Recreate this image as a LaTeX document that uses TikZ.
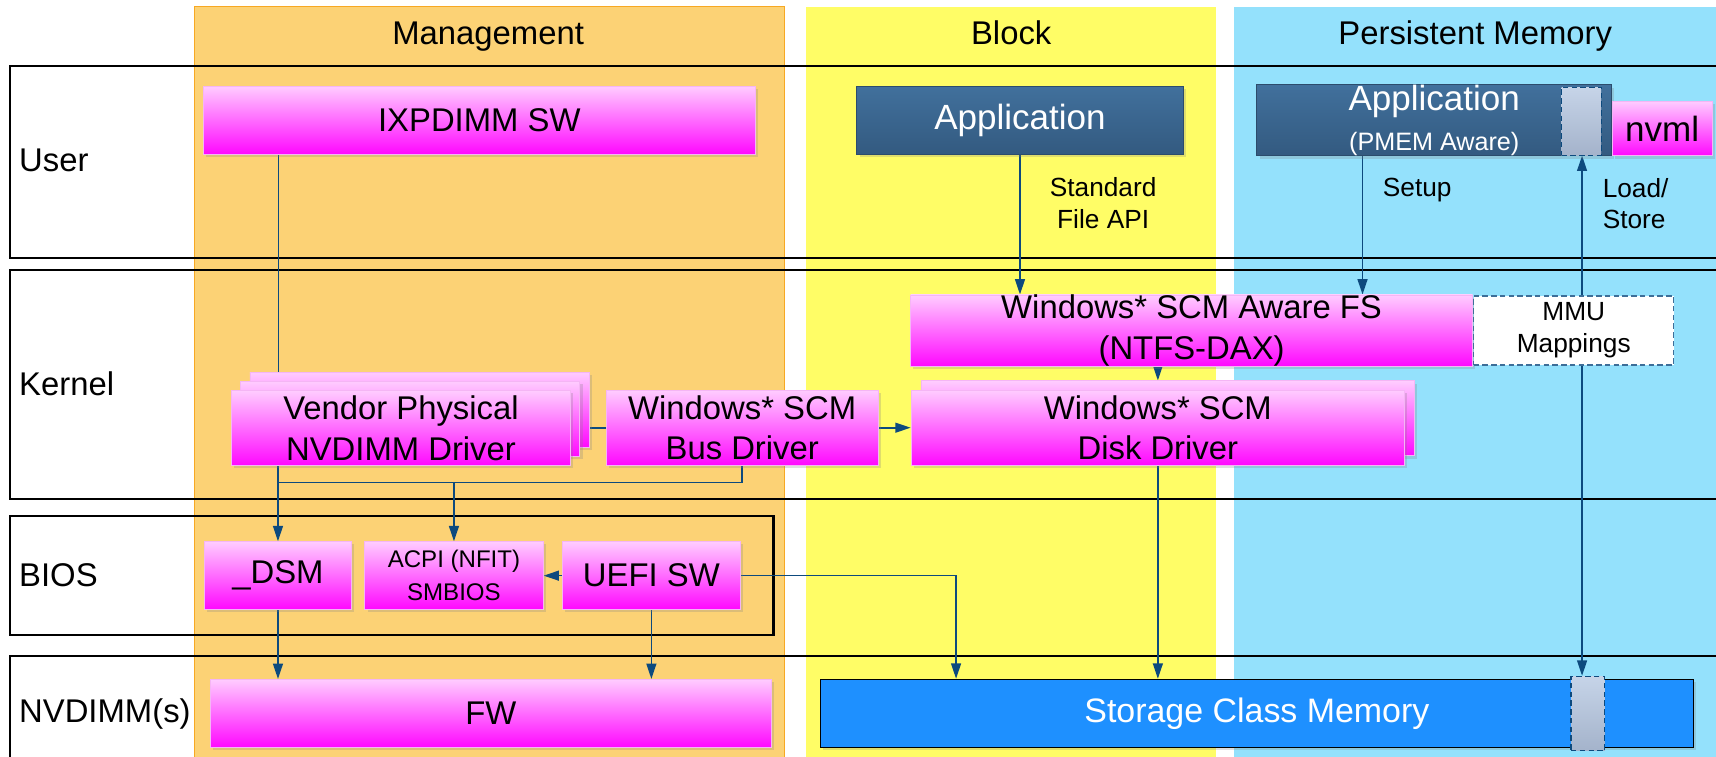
\documentclass[tikz,border=0pt]{standalone}
\usepackage{fontspec}
\setmainfont{Liberation Sans}
\usetikzlibrary{positioning,arrows.meta,shadows}

\definecolor{mgmtfill}{HTML}{FCD275}
\definecolor{mgmtedge}{HTML}{F7A823}
\definecolor{blockfill}{HTML}{FFFD66}
\definecolor{pmfill}{HTML}{94E1FC}
\definecolor{pinktop}{HTML}{FFCCFF}
\definecolor{pinkbot}{HTML}{FF08FF}
\definecolor{pinkedge}{HTML}{F5B5F5}
\definecolor{apptop}{HTML}{41709C}
\definecolor{appbot}{HTML}{335A80}
\definecolor{appedge}{HTML}{2C4C6C}
\definecolor{wire}{HTML}{0D4A7E}
\definecolor{scmblue}{HTML}{1E90FF}
\definecolor{slottop}{HTML}{C6D4E8}
\definecolor{slotbot}{HTML}{A4B3CB}

\pgfdeclarelayer{background}
\pgfdeclarelayer{wires}
\pgfsetlayers{background,wires,main}

\tikzset{
  dims/.style 2 args={minimum width=#1pt, minimum height=#2pt},
  softshadow/.style={drop shadow={opacity=0.25, shadow xshift=2.5pt, shadow yshift=-2.5pt}},
  swbox/.style={draw=pinkedge, line width=0.8pt, top color=pinktop, bottom color=pinkbot,
    inner sep=0pt, align=center, font=\fontsize{30}{37}\selectfont, softshadow},
  appbox/.style={draw=appedge, line width=0.8pt, top color=apptop, bottom color=appbot,
    text=white, inner sep=0pt, align=center, font=\fontsize{32}{37}\selectfont, softshadow},
  slot/.style={draw=wire, dash pattern=on 5pt off 3pt, line width=1pt,
    top color=slottop, bottom color=slotbot, inner sep=0pt},
  rowlabel/.style={anchor=base west, font=\fontsize{30}{36}\selectfont},
  lanehead/.style={anchor=base, font=\fontsize{30}{36}\selectfont},
  note/.style={align=center, font=\fontsize{24}{29}\selectfont},
  layerbox/.style={draw=black, line width=2pt},
  link/.style={draw=wire, line width=1.5pt},
  arr/.style={link, -{Triangle[length=14pt,width=9pt]}},
}

\begin{document}
\begin{tikzpicture}[x=1pt, y=-1pt]
  \useasboundingbox (0,0) rectangle (1568,691);

  % columns and layers
  \begin{pgfonlayer}{background}
    \fill[mgmtfill] (178,6) rectangle (716.8,700);
    \draw[mgmtedge, line width=1pt] (178,700) -- (178,6) -- (716.8,6) -- (716.8,700);
    \fill[blockfill] (736.8,6) rectangle (1111.4,700);
    \fill[pmfill] (1127.6,6) rectangle (1580,700);

    \draw[layerbox] (9.5,60.3) rectangle (1580,236);
    \draw[layerbox] (9.5,246.7) rectangle (1580,456.3);
    \draw[layerbox] (9.5,471.2) rectangle (706.8,580.2);
    \draw[layerbox] (9.5,599.4) rectangle (1580,700);
  \end{pgfonlayer}

  \node[lanehead] (mgmthead) at (446,41) {Management};
  \node[lanehead] (blockhead) at (924,41) {Block};
  \node[lanehead] (pmhead) at (1348,41) {Persistent Memory};

  \node[rowlabel] (userlbl) at (14,157) {User};
  \node[rowlabel] (kernellbl) at (14,361) {Kernel};
  \node[rowlabel] (bioslbl) at (14,535.5) {BIOS};
  \node[rowlabel] (nvdimmlbl) at (14,660) {NVDIMM(s)};

  % user
  \node[swbox, dims={504}{62}] (ixp) at (438,109.7) {IXPDIMM SW};
  \node[appbox, dims={298}{62}] (appblk) at (932,110) {Application};
  \node[appbox, dims={324}{62}] (apppm) at (1310.5,110)
    {Application\\{\fontsize{23}{28}\selectfont (PMEM Aware)}};
  \node[slot, dims={36}{62}] (pmdash) at (1445,110.7) {};
  \node[swbox, dims={91}{50}, anchor=south west,
    font=\fontsize{32}{37}\selectfont] (nvml) at (apppm.south east) {nvml};

  \node[note] (fileapi) at (1008,185.5) {Standard\\File API};
  \node[note, anchor=base] (setuplbl) at (1295,180) {Setup};
  \node[note, align=left, anchor=west] (loadlbl) at (1461,186) {Load/\\Store};

  % kernel
  \node[swbox, dims={513.6}{64}] (fs) at (1088.8,302) {Windows* SCM Aware FS\\(NTFS-DAX)};
  \node[dims={183}{63}, right=0pt of fs, draw=wire!80, dash pattern=on 5pt off 3pt,
    line width=1pt, fill=white, inner sep=0pt, note] (mmu) {MMU\\Mappings};

  \node[swbox, dims={310}{68.5}] (vend3) at (383.4,374.2) {};
  \node[swbox, dims={310}{68.5}] (vend2) at ([shift={(-8.5,8.5)}]vend3.center) {};
  \node[swbox, dims={310}{68.5}] (vend) at ([shift={(-8.5,8.5)}]vend2.center)
    {Vendor Physical\\NVDIMM Driver};
  \node[swbox, dims={248.6}{68.5}] (bus) at (678.2,390.8) {Windows* SCM\\Bus Driver};

  \node[swbox, dims={451}{68.5}] (disk2) at (1067,382.3) {};
  \node[swbox, dims={451}{68.5}] (disk) at ([shift={(-9,8.5)}]disk2.center)
    {Windows* SCM\\Disk Driver};

  % bios
  \node[swbox, dims={134}{62}] (dsm) at (254,526) {\_DSM};
  \node[swbox, dims={163}{62}, font=\fontsize{22}{30}\selectfont] (acpi) at (414.8,526)
    {ACPI (NFIT)\\SMBIOS};
  \node[swbox, dims={163}{62}] (uefi) at (595.2,526) {UEFI SW};

  % nvdimm
  \node[swbox, dims={513}{62}] (fw) at (448.6,651.8) {FW};
  \node[draw=black, line width=1.2pt, fill=scmblue, text=white, inner sep=0pt,
    dims={798}{62}, font=\fontsize{31}{36}\selectfont, softshadow] (scm) at (1148.5,651.8)
    {Storage Class Memory};
  \node[slot, dims={31}{68}] (scmdash) at (1451,652) {};

  % connectors
  \begin{pgfonlayer}{wires}
    \draw[link] (254.6,0 |- ixp.south) -- (254.6,0 |- vend3.north);
    \draw[arr] (dsm.north |- vend.south) -- (dsm.north);
    \draw[link] (bus.south) |- (dsm.north |- 0,441);
    \draw[arr] (acpi.north |- 0,441) -- (acpi.north);
    \draw[link] (vend3.east |- bus.west) -- (bus.west);
    \draw[arr] (bus.east) -- (disk.west);
    \draw[arr] (appblk.south) -- (appblk.south |- fs.north);
    \draw[arr] (1245,0 |- apppm.south) -- (1245,0 |- fs.north);
    \draw[arr] (disk.north |- fs.south) -- (disk.north |- disk2.north);
    \draw[arr] (disk.south) -- (disk.south |- scm.north);
    \draw[arr] (uefi.east) -| (873.6,0 |- scm.north);
    \draw[arr] (uefi.south) -- (uefi.south |- fw.north);
    \draw[arr] (dsm.south) -- (dsm.south |- fw.north);
    \draw[arr] (uefi.west) -- (acpi.east);
    \draw[link, {Triangle[length=14pt,width=9pt]}-{Triangle[length=14pt,width=9pt]}]
      (1445.6,0 |- pmdash.south) -- (1445.6,0 |- scmdash.north);
  \end{pgfonlayer}
\end{tikzpicture}
\end{document}
